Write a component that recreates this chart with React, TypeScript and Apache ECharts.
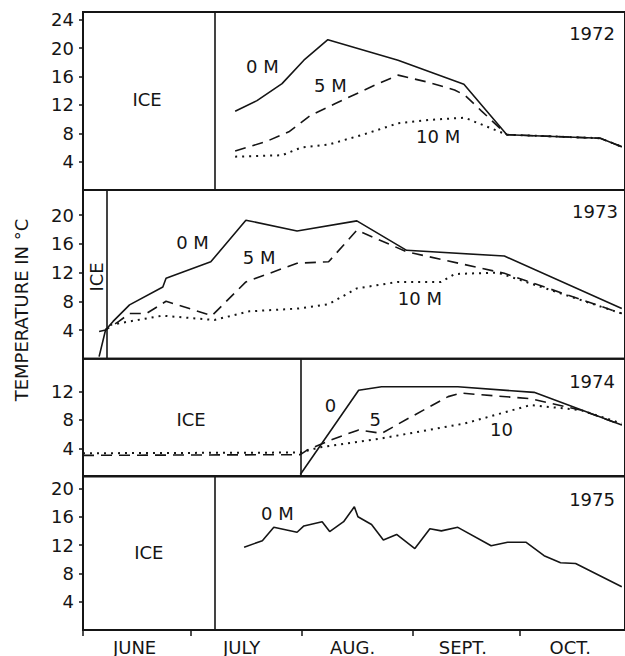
import React, { useEffect, useRef } from "react";
import * as echarts from "echarts";

// x values are days counted from June 1
const monthStarts = [0, 30, 61, 92, 122];
const monthMids = [14.4, 44.3, 75.3, 106.1, 136.1];
const monthNames = ["JUNE", "JULY", "AUG.", "SEPT.", "OCT."];

const ticks1972 = [4, 8, 12, 16, 20, 24];
const ticks1973 = [4, 8, 12, 16, 20];
const ticks1974 = [4, 8, 12];
const ticks1975 = [4, 8, 12, 16, 20];

const iceEnd = [36.7, 6.6, 60.7, 36.9];

const t1972_0m = [[42.5, 11.1], [48.6, 12.6], [55.6, 15.0], [61.7, 18.3], [68.4, 21.2], [88, 18.3], [106.4, 14.9], [118.4, 7.8], [144.5, 7.3], [150.5, 6.1]];
const t1972_5m = [[42.5, 5.5], [51, 6.8], [57.5, 8.2], [63.5, 10.5], [70.5, 12.2], [81.6, 14.8], [88, 16.2], [96.4, 15.2], [103.8, 14.1], [106.6, 13.4], [111.2, 11.2], [118.4, 7.8], [144.5, 7.3], [150.5, 6.1]];
const t1972_10m = [[42.5, 4.7], [55.6, 4.9], [61, 6.0], [68.6, 6.4], [78.8, 7.9], [88, 9.4], [97.2, 9.9], [106.6, 10.2], [112, 9.1], [118.4, 7.8], [144.5, 7.3], [150.5, 6.1]];

const t1973_0m = [[4.5, 0.3], [6.3, 4.0], [8.4, 5.2], [13, 7.5], [22.3, 10.0], [23.2, 11.2], [35.7, 13.5], [45.5, 19.3], [59.8, 17.8], [76.5, 19.2], [90.4, 15.1], [117.7, 14.3], [150.5, 7.0]];
const t1973_5m = [[4.5, 3.8], [6.3, 4.0], [10, 5.2], [13, 6.3], [17.7, 6.3], [23.2, 8.0], [36, 6.0], [45.5, 10.7], [59.8, 13.3], [68.6, 13.5], [76.5, 17.9], [90.4, 14.9], [117.7, 11.9], [150.5, 6.3]];
const t1973_10m = [[6.3, 4.0], [7.5, 4.7], [13, 5.2], [22.2, 6.0], [36.7, 5.4], [46.4, 6.6], [60.3, 7.0], [68.6, 7.6], [76.5, 9.8], [88, 10.7], [100, 10.7], [103.8, 11.8], [115.8, 12.0], [150.5, 6.3]];

const t1974_0m = [[60.7, 0.3], [77, 12.2], [83.4, 12.7], [104.7, 12.7], [126, 11.9], [150.5, 7.3]];
const t1974_5m = [[0, 3.0], [60.7, 3.1], [62.6, 3.75], [69.4, 5.2], [77, 6.6], [83.4, 6.1], [90.8, 8.2], [102, 11.3], [105.6, 11.8], [125, 11.0], [139, 9.4], [150.5, 7.3]];
const t1974_10m = [[0, 3.3], [60.7, 3.4], [65.8, 4.1], [83.4, 5.4], [106.6, 7.5], [125, 10.1], [139, 9.4], [150.5, 7.5]];

const t1975_0m = [[45, 11.7], [50.1, 12.6], [53.3, 14.5], [59.8, 13.8], [61.7, 14.7], [66.8, 15.3], [68.9, 13.9], [72.8, 15.3], [75.8, 17.4], [76.8, 16.0], [80.6, 14.9], [83.9, 12.7], [87.6, 13.5], [92.7, 11.5], [96.9, 14.3], [100.1, 14.0], [104.7, 14.5], [114, 11.9], [118.6, 12.4], [123.7, 12.4], [128.8, 10.5], [133.4, 9.5], [137.6, 9.4], [150.5, 6.1]];

// annotations: [text, day, value, rotation]
const notes1972 = [["ICE", 17.9, 12.7, 0], ["0 M", 50.1, 17.4, 0], ["5 M", 69.1, 14.8, 0], ["10 M", 99.2, 7.5, 0], ["1972", 142.2, 22.1, 0]];
const notes1973 = [["ICE", 3.8, 11.4, 90], ["0 M", 30.6, 16.2, 0], ["5 M", 49.2, 14.1, 0], ["10 M", 94.1, 8.4, 0], ["1973", 143, 20.5, 0]];
const notes1974 = [["ICE", 30.2, 8.1, 0], ["0", 69.1, 10.1, 0], ["5", 81.6, 8.0, 0], ["10", 116.9, 6.7, 0], ["1974", 142.2, 13.5, 0]];
const notes1975 = [["ICE", 18.4, 10.9, 0], ["0 M", 54.3, 16.5, 0], ["1975", 142.2, 18.4, 0]];

const FONT = "DejaVu Sans";
const INK = "#151515";
const X_MAX = 151.4;

export default function App() {
  const ref = useRef<HTMLDivElement>(null);
  useEffect(() => {
    if (!ref.current) return;
    const chart = echarts.init(ref.current, null, { renderer: "svg" });

    const grids = [
      { top: 12, height: 178, max: 25.1, ticks: ticks1972 },
      { top: 190, height: 168.75, max: 23.5, ticks: ticks1973 },
      { top: 358.75, height: 117.85, max: 16.65, ticks: ticks1974 },
      { top: 476, height: 154.7, max: 21.75, ticks: ticks1975 },
    ];
    const seriesSets = [
      [t1972_0m, t1972_5m, t1972_10m],
      [t1973_0m, t1973_5m, t1973_10m],
      [t1974_0m, t1974_5m, t1974_10m],
      [t1975_0m],
    ];
    const notes = [notes1972, notes1973, notes1974, notes1975];

    const styles: any[] = [
      { color: INK, width: 1.6, type: "solid" },
      { color: INK, width: 1.6, type: [11, 7] },
      { color: INK, width: 2, type: [2, 5] },
    ];

    const series: any[] = [];
    seriesSets.forEach((set, gi) => {
      set.forEach((data, si) => {
        const s: any = {
          type: "line",
          xAxisIndex: gi,
          yAxisIndex: gi,
          data,
          showSymbol: false,
          symbol: "none",
          lineStyle: styles[si],
          z: 3 - si,
        };
        if (si === 0) {
          s.markLine = {
            silent: true,
            symbol: ["none", "none"],
            label: { show: false },
            lineStyle: { color: INK, width: 1.6, type: "solid" },
            data: [{ xAxis: iceEnd[gi] }],
          };
          s.markPoint = {
            silent: true,
            symbol: "rect",
            symbolSize: 1,
            itemStyle: { color: "rgba(0,0,0,0)" },
            label: {
              show: true,
              position: "inside",
              formatter: "{b}",
              color: INK,
              fontSize: 18,
              fontFamily: FONT,
            },
            data: notes[gi].map((n: any) => ({
              name: n[0],
              coord: [n[1], n[2]],
              label: { rotate: n[3] },
            })),
          };
        }
        series.push(s);
      });
    });

    const last = grids.length - 1;
    const option: any = {
      animation: false,
      backgroundColor: "#ffffff",
      grid: grids.map((g) => ({
        left: 83,
        right: -3,
        top: g.top,
        height: g.height,
        show: true,
        borderColor: INK,
        borderWidth: 2,
        backgroundColor: "transparent",
      })),
      xAxis: grids.map((g, i) => ({
        type: "value",
        gridIndex: i,
        min: 0,
        max: X_MAX,
        axisLine: { show: false },
        splitLine: { show: false },
        axisTick:
          i === last
            ? { show: true, customValues: monthStarts, length: 6, lineStyle: { color: INK, width: 1.5 } }
            : { show: false },
        axisLabel:
          i === last
            ? {
                show: true,
                customValues: monthMids,
                margin: 8,
                color: INK,
                fontSize: 18,
                fontFamily: FONT,
                formatter: (v: number) => {
                  let best = 0;
                  monthMids.forEach((m, k) => {
                    if (Math.abs(m - v) < Math.abs(monthMids[best] - v)) best = k;
                  });
                  return monthNames[best];
                },
              }
            : { show: false },
      })),
      yAxis: grids.map((g, i) => ({
        type: "value",
        gridIndex: i,
        min: 0,
        max: g.max,
        axisLine: { show: false },
        splitLine: { show: false },
        axisTick: { show: true, customValues: g.ticks, length: 4, lineStyle: { color: INK, width: 1.5 } },
        axisLabel: {
          show: true,
          customValues: g.ticks,
          margin: 9,
          color: INK,
          fontSize: 18,
          fontFamily: FONT,
        },
      })),
      graphic: [
        {
          type: "text",
          x: 21.7,
          y: 310,
          rotation: Math.PI / 2,
          style: {
            text: "TEMPERATURE IN °C",
            fill: INK,
            font: `18px "${FONT}"`,
            textAlign: "center",
            textVerticalAlign: "middle",
            align: "center",
            verticalAlign: "middle",
          },
        },
      ],
      series,
    };
    chart.setOption(option);
    return () => chart.dispose();
  }, []);

  return (
    <div
      ref={ref}
      style={{ position: "fixed", left: 0, top: 0, width: 625, height: 656, background: "#fff" }}
    />
  );
}
